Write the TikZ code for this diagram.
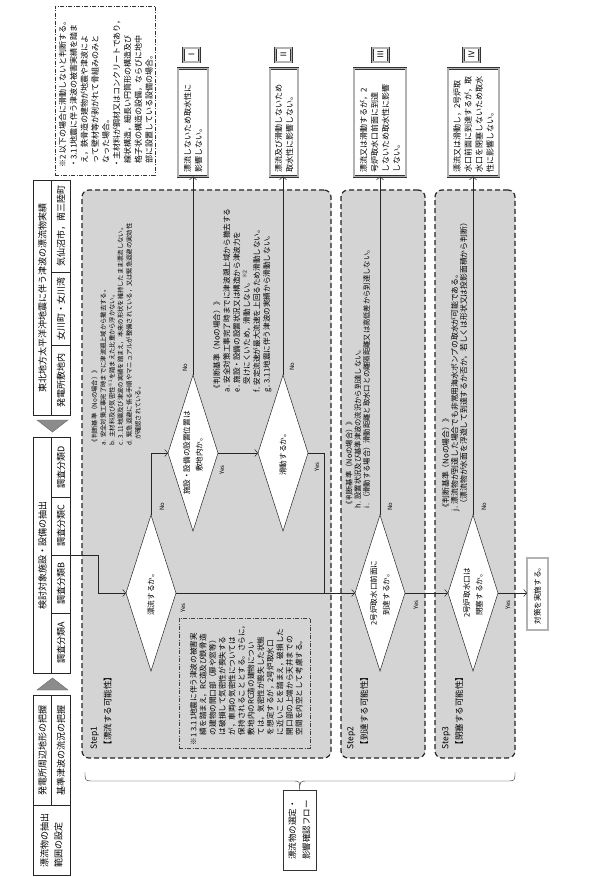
\documentclass[tikz,border=0pt]{standalone}
\usepackage{fontspec}
\setmainfont{Noto Sans CJK JP}
\usetikzlibrary{arrows.meta}
\newcommand\fs[2]{\fontsize{#1}{#2}\selectfont}
\newcommand\mydia[4]{%
  \coordinate (#1-w) at (#2-25,#3);
  \coordinate (#1-e) at (#2+25,#3);
  \coordinate (#1-n) at (#2,#3-78);
  \coordinate (#1-s) at (#2,#3+78);
  \draw[diashape] (#1-w) -- (#1-n) -- (#1-e) -- (#1-s) -- cycle;
  \node[dtxt] (#1) at (#2,#3) {#4};}
\begin{document}
\begin{tikzpicture}[x=1pt,y=-1pt,
  every node/.style={inner sep=0pt,outer sep=0pt},
  hbox/.style={draw=black!85,line width=0.5pt,minimum width=37pt},
  htxt/.style={rotate=90,align=center,font=\fs{9}{14}},
  tri/.style={fill=black!45,draw=black!60,line width=0.4pt},
  stepbox/.style={draw=black!85,line width=1.2pt,dash pattern=on 5pt off 3pt,fill=black!17,rounded corners=7pt},
  conn/.style={draw=black!85,line width=0.5pt},
  arr/.style={conn,-{Straight Barb[length=3pt,width=7pt]}},
  diashape/.style={draw=black!85,line width=0.5pt,fill=white},
  dtxt/.style={rotate=90,align=center,font=\fs{7.6}{12.5}},
  crit/.style={rotate=90,align=left,anchor=north west},
  yn/.style={rotate=90,font=\fs{6}{6}},
  dbl/.style={draw=black!80,double=black!30,double distance=1.1pt,line width=0.55pt,fill=white},
  rbox/.style={rotate=90,dbl,inner xsep=4pt,text width=100pt,minimum height=#1,align=left,font=\fs{8}{11}},
  lbox/.style={rotate=90,dbl,minimum width=14pt,minimum height=16pt,font=\fs{8}{8}},
  ]
\useasboundingbox (0,0) rectangle (589,877);
\fill[white] (0,0) rectangle (589,877);

% ---------- header column ----------
\node[hbox,minimum height=70pt] (hA) at (51.5,840) {};
\node[htxt,align=left] at (hA) {漂流物の抽出\\範囲の設定};
\node[hbox,minimum height=110pt] (hB) at (51.5,750) {};
\draw[conn] (hB.north) -- (hB.south);
\node[htxt] at (42.5,750) {発電所周辺地形の把握};
\node[htxt] at (61,750) {基準津波の流況の把握};
\fill[tri] (37,690) -- (68,690) -- (52.5,678) -- cycle;
\node[hbox,minimum height=236pt] (kentou) at (51.5,555) {};
\draw[conn] (kentou.north) -- (kentou.south);
\draw[conn] (52,497) -- (70,497) (52,555) -- (70,555) (52,613) -- (70,613);
\node[htxt] at (42.5,555) {検討対象施設・設備の抽出};
\node[htxt] at (61,643) {調査分類A};
\node[htxt] at (61,584) {調査分類B};
\node[htxt] at (61,526) {調査分類C};
\node[htxt] at (61,467) {調査分類D};
\fill[tri] (37,420) -- (68,420) -- (52.5,432) -- cycle;
\node[hbox,minimum height=235pt] (hD) at (51.5,297.5) {};
\draw[conn] (hD.north) -- (hD.south);
\draw[conn] (52,272) -- (70,272) (52,345) -- (70,345);
\node[htxt] at (42.5,297.5) {東北地方太平洋沖地震に伴う津波の漂流物実績};
\node[htxt] at (61,380) {発電所敷地内};
\node[htxt] at (61,308.5) {女川町・女川湾};
\node[htxt] at (61,226) {気仙沼市，南三陸町};

% ---------- note 2 ----------
\node[draw=black!80,line width=0.5pt,dash pattern=on 4pt off 1.5pt on 1pt off 1.5pt,minimum width=100pt,minimum height=169pt] (n2) at (105,90.5) {};
\node[crit,font=\fs{8}{10.8}] (n2t) at (59,168) {※2 以下の場合に滑動しないと判断する。\\・3.11地震に伴う津波の被害実績を踏ま\\\hspace*{0.6em}え，鉄骨造の建物が地震や津波によ\\\hspace*{0.6em}って壁材等が剥がれて骨組みのみと\\\hspace*{0.6em}なった場合。\\・主材料が鋼材又はコンクリートであり，\\\hspace*{0.6em}線状構造，細長い円筒形の構造及び\\\hspace*{0.6em}格子状の構造の設備，ならびに地中\\\hspace*{0.6em}部に設置している設備の場合。};

% ---------- step boxes ----------
\node[stepbox,minimum width=249pt,minimum height=568pt] (st1) at (206.5,474) {};
\node[stepbox,minimum width=84pt,minimum height=568pt] (st2) at (383,474) {};
\node[stepbox,minimum width=80pt,minimum height=568pt] (st3) at (475,474) {};
\node[draw=black!75,line width=0.4pt,dash pattern=on 4pt off 1.5pt on 1pt off 1.5pt,minimum width=131pt,minimum height=130pt] (n1) at (244.5,683) {};

% ---------- result boxes ----------
\node[rbox=30pt] (r1) at (193,122.5) {漂流しないため取水性に\\影響しない。};
\node[rbox=28pt] (r2) at (284,122.5) {漂流及び滑動しないため\\取水性に影響しない。};
\node[rbox=52pt] (r3) at (380,122.5) {漂流又は滑動するが，2\\号炉取水口前面に到達\\しないため取水性に影響\\しない。};
\node[rbox=51pt] (r4) at (473.5,122.5) {漂流又は滑動し，2号炉取\\水口前面に到達するが，取\\水口を閉塞しないため取水\\性に影響しない。};
\node[lbox] (l1) at (191.5,55) {Ⅰ};
\node[lbox] (l2) at (283.5,55) {Ⅱ};
\node[lbox] (l3) at (380.5,55) {Ⅲ};
\node[lbox] (l4) at (471.5,55) {Ⅳ};
\node[rotate=90,dbl,minimum width=72pt,minimum height=21pt,font=\fs{7.6}{9}] (taisaku) at (537.5,594) {対策を実施する。};

% ---------- diamonds ----------
\coordinate (j1) at (324,593);
\mydia{d1}{151}{593}{漂流するか。}
\mydia{d2}{193}{453}{施設・設備の設置位置は\\敷地内か。}
\mydia{d3}{283}{453}{滑動するか。}
\mydia{d4}{380}{593}{2号炉取水口前面に\\到達するか。}
\mydia{d5}{473}{593}{2号炉取水口は\\閉塞するか。}

% ---------- connectors ----------
\draw[arr] (kentou.east) -- ++(28,0) |- (d1-w);
\draw[arr] (d1-n) |- (d2-w);
\draw[arr] (d2-n) -- (d2-n |- r1.west);
\draw[arr] (d2-e) -- (d3-w);
\draw[arr] (d3-n) -- (d3-n |- r2.west);
\draw[conn] (d3-e) -| (j1);
\draw[arr] (d1-e) -- (d4-w);
\draw[arr] (d4-n) -- (d4-n |- r3.west);
\draw[arr] (d4-e) -- (d5-w);
\draw[arr] (d5-n) -- (d5-n |- r4.west);
\draw[arr] (d5-e) -- (d5-e -| taisaku.north);

\node[yn] at (162,507) {No};
\node[yn] at (185,368) {No};
\node[yn] at (222,470) {Yes};
\node[yn] at (292,367) {No};
\node[yn] at (317,467) {Yes};
\node[yn] at (183,608) {Yes};
\node[yn] at (390,507) {No};
\node[yn] at (416,605) {Yes};
\node[yn] at (484,507) {No};
\node[yn] at (508,605) {Yes};

% ---------- texts in steps ----------
\node[crit,font=\fs{8.5}{14}] (s1) at (90.5,749) {Step1\\【漂流する可能性】};
\node[crit,font=\fs{8.5}{14}] (s2) at (347,749) {Step2\\【到達する可能性】};
\node[crit,font=\fs{8.5}{14}] (s3) at (442,749) {Step3\\【閉塞する可能性】};

\node[crit,font=\fs{6.3}{8.7}] (c1) at (91.5,445) {《判断基準（Noの場合）》\\a. 安全対策工事完了時までに津波遡上域から撤去する。\\b. 主材料及び気密性\textsuperscript{※1}を踏まえた比重から浮かない。\\c. 3.11地震及び津波の実績を踏まえ，本来の形状を維持したまま漂流しない。\\d. 緊急退避に係る手順やマニュアルが整備されている，又は緊急退避の実効性\\\hspace*{0.8em}が確認されている。};
\node[crit,font=\fs{7.6}{10}] (c2) at (213,392) {《判断基準（Noの場合）》\\a. 安全対策工事完了時までに津波遡上域から撤去する\\e. 施設・設備の設置状況又は構造から津波力を\\\hspace*{1em}受けにくいため，滑動しない。\textsuperscript{※2}\\f. 安定流速が最大流速を上回るため滑動しない。\\g. 3.11地震に伴う津波の実績から滑動しない。};
\node[crit,font=\fs{7.3}{8.8}] (c3) at (345.5,508) {《判断基準（Noの場合）》\\h. 設置状況及び基準津波の流況から到達しない。\\i. （滑動する場合）滑動距離と取水口との離隔距離又は高低差から到達しない。};
\node[crit,font=\fs{7.8}{9}] (c4) at (442,511) {《判断基準（Noの場合）》\\j. 漂流物が到達した場合でも非常用海水ポンプの取水が可能である。\\\hspace*{0.5em}（漂流物が水面を浮遊して到達するか否か，若しくは形状又は投影面積から判断）};

\node[crit,font=\fs{7.6}{9.6}] (n1t) at (190,745) {※1 3.11地震に伴う津波の被害実\\\hspace*{1.3em}績を踏まえ，RC造及び鉄骨造\\\hspace*{1.3em}の建物の開口部（扉や窓等）\\\hspace*{1.3em}は破損して気密性が喪失する\\\hspace*{1.3em}が，車両の気密性については\\\hspace*{1.3em}保持されることとする。さらに，\\\hspace*{1.3em}敷地内のRC造の建物につい\\\hspace*{1.3em}ては，気密性が喪失した状態\\\hspace*{1.3em}を想定するが，2号炉取水口\\\hspace*{1.3em}に近いことを踏まえ，破損した\\\hspace*{1.3em}開口部の上端から天井までの\\\hspace*{1.3em}空間を内空として考慮する。};

% ---------- flow label and brace ----------
\node[rotate=90,draw=black!80,line width=0.5pt,minimum width=80pt,minimum height=33pt,align=left,font=\fs{8.5}{14}] (flow) at (299.5,830) {漂流物の選定・\\影響確認フロー};
\draw[conn,line width=0.4pt] (85,772) .. controls (85,781) .. (94,781) -- (292,781) .. controls (300,781) .. (flow.east) .. controls (300,781) .. (308,781) -- (506,781) .. controls (515,781) .. (515,772);
\end{tikzpicture}
\end{document}
